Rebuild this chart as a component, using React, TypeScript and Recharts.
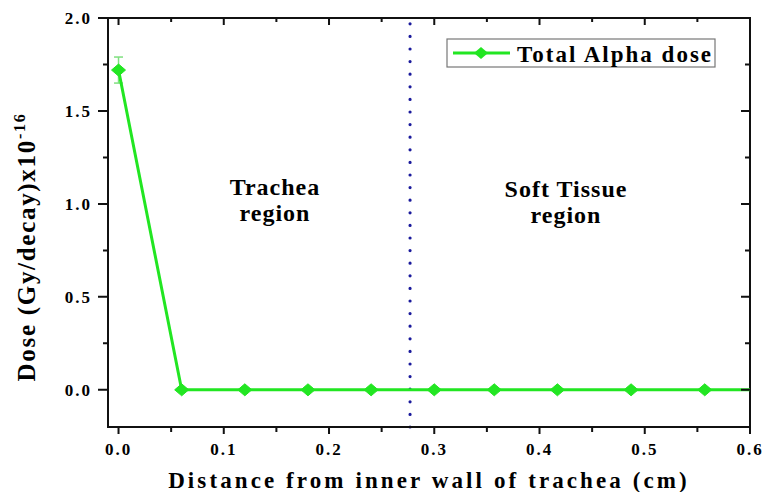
import React from 'react';
import { LineChart, Line, XAxis, YAxis, ReferenceLine, ErrorBar } from 'recharts';

// ---- data ----
const distances = [0, 0.06, 0.12, 0.18, 0.24, 0.30, 0.357, 0.417, 0.487, 0.557, 0.6];
const totalAlphaDose = [1.72, 0, 0, 0, 0, 0, 0, 0, 0, 0, 0];
const doseError = [0.07, null, null, null, null, null, null, null, null, null, null];
const xTicks = [0, 0.05, 0.1, 0.15, 0.2, 0.25, 0.3, 0.35, 0.4, 0.45, 0.5, 0.55, 0.6];
const yTicks = [0, 0.25, 0.5, 0.75, 1.0, 1.25, 1.5, 1.75, 2.0];
const xDomain = [-0.01, 0.6];
const yDomain = [-0.2, 2.0];
const regionBoundary = 0.277;
const seriesName = 'Total Alpha dose';
const xLabel = 'Distance from inner wall of trachea (cm)';
const yLabel = 'Dose (Gy/decay)x10';
const yLabelExp = '-16';

const data = distances.map((d, i) => ({ x: d, dose: totalAlphaDose[i], err: doseError[i] }));

const GREEN = '#22e622';
const INK = '#111111';
const FONT = '"Liberation Serif", "Times New Roman", serif';

// layout
const W = 766;
const H = 492;
const M = { top: 18, right: 16, bottom: 0, left: 0 };
const LEFT_W = 108;
const BOTTOM_H = 65;
const PLOT = { x: M.left + LEFT_W, y: M.top, w: W - M.right - (M.left + LEFT_W), h: H - BOTTOM_H - M.top };

const isMajorX = (v: number) => Math.abs(v * 10 - Math.round(v * 10)) < 1e-6;
const isMajorY = (v: number) => Math.abs(v * 2 - Math.round(v * 2)) < 1e-6;

const BottomTick = (p: any) => {
  const { x, y, payload } = p;
  const major = isMajorX(payload.value);
  const d = `M${x},${y}V${y + (major ? 7 : 5)}M${x},${PLOT.y}V${PLOT.y + (major ? 7 : 4)}`;
  return (
    <g>
      <path d={d} stroke={INK} strokeWidth={2} fill="none" />
      {major && (
        <text x={x} y={y + 28} textAnchor="middle" fontFamily={FONT} fontWeight="bold" fontSize={17} letterSpacing={2} fill="#000">
          {payload.value.toFixed(1)}
        </text>
      )}
    </g>
  );
};

const LeftTick = (p: any) => {
  const { x, y, payload } = p;
  const major = isMajorY(payload.value);
  const rx = PLOT.x + PLOT.w;
  const d = `M${x},${y}H${x - (major ? 10 : 5)}M${rx},${y}H${rx - (major ? 9 : 5)}`;
  return (
    <g>
      <path d={d} stroke={INK} strokeWidth={2} fill="none" />
      {major && (
        <text x={x - 16} y={y + 6} textAnchor="end" fontFamily={FONT} fontWeight="bold" fontSize={17} letterSpacing={2} fill="#000">
          {payload.value.toFixed(1)}
        </text>
      )}
    </g>
  );
};

const renderDiamond = (p: any) => {
  const { cx, cy, index, payload } = p;
  if (cx == null || cy == null || (payload && payload.x >= xDomain[1])) return <g key={`d-${index}`} />;
  return (
    <path
      key={`d-${index}`}
      d={`M${cx},${cy - 6}L${cx + 7},${cy}L${cx},${cy + 6}L${cx - 7},${cy}Z`}
      fill={GREEN}
      stroke={GREEN}
      strokeWidth={1}
    />
  );
};

export default function App() {
  return (
    <div style={{ position: 'absolute', left: 0, top: 0, width: W, height: H, background: '#fff' }}>
      <LineChart width={W} height={H} data={data} margin={M}>
        <XAxis
          dataKey="x"
          type="number"
          domain={xDomain}
          ticks={xTicks}
          interval={0}
          height={BOTTOM_H}
          tickSize={0}
          tickMargin={0}
          tick={<BottomTick />}
          axisLine={{ stroke: INK, strokeWidth: 2 }}
          tickLine={false}
        />
        <YAxis
          type="number"
          domain={yDomain}
          ticks={yTicks}
          interval={0}
          width={LEFT_W}
          tickSize={0}
          tickMargin={0}
          tick={<LeftTick />}
          axisLine={{ stroke: INK, strokeWidth: 2 }}
          tickLine={false}
        />
        <ReferenceLine
          x={regionBoundary}
          stroke="#1a1a9c"
          strokeWidth={3.2}
          strokeDasharray="0 12.6"
          strokeLinecap="round"
        />
        <Line
          type="linear"
          dataKey="dose"
          name={seriesName}
          stroke={GREEN}
          strokeWidth={3}
          dot={renderDiamond}
          isAnimationActive={false}
        >
          <ErrorBar dataKey="err" direction="y" width={4.5} stroke="#7fe07f" strokeWidth={1.5} />
        </Line>

        <path
          d={`M${PLOT.x},${PLOT.y}H${PLOT.x + PLOT.w}V${PLOT.y + PLOT.h}H${PLOT.x}Z`}
          fill="none"
          stroke={INK}
          strokeWidth={2}
        />

        <text x={275} y={195} textAnchor="middle" fontFamily={FONT} fontWeight="bold" fontSize={24} letterSpacing={1} fill="#000">Trachea</text>
        <text x={275} y={221} textAnchor="middle" fontFamily={FONT} fontWeight="bold" fontSize={24} letterSpacing={1} fill="#000">region</text>
        <text x={566} y={197} textAnchor="middle" fontFamily={FONT} fontWeight="bold" fontSize={24} letterSpacing={1} fill="#000">Soft Tissue</text>
        <text x={566} y={223} textAnchor="middle" fontFamily={FONT} fontWeight="bold" fontSize={24} letterSpacing={1} fill="#000">region</text>

        <g>
          <rect x={447} y={39} width={268} height={28} fill="#fff" stroke="#777" strokeWidth={1.2} />
          <line x1={453} x2={510} y1={53} y2={53} stroke={GREEN} strokeWidth={3} />
          <path d="M481,47L488,53L481,59L474,53Z" fill={GREEN} />
          <text x={517} y={62} fontFamily={FONT} fontWeight="bold" fontSize={23} letterSpacing={2} fill="#000">{seriesName}</text>
        </g>

        <text x={429} y={488} textAnchor="middle" fontFamily={FONT} fontWeight="bold" fontSize={23} letterSpacing={3.1} fill="#000">{xLabel}</text>
        <text transform="translate(35, 247) rotate(-90)" textAnchor="middle" fontFamily={FONT} fontWeight="bold" fontSize={25} letterSpacing={1.7} fill="#000">
          {yLabel}
          <tspan dy={-10} fontSize={16}>{yLabelExp}</tspan>
        </text>
      </LineChart>
    </div>
  );
}
